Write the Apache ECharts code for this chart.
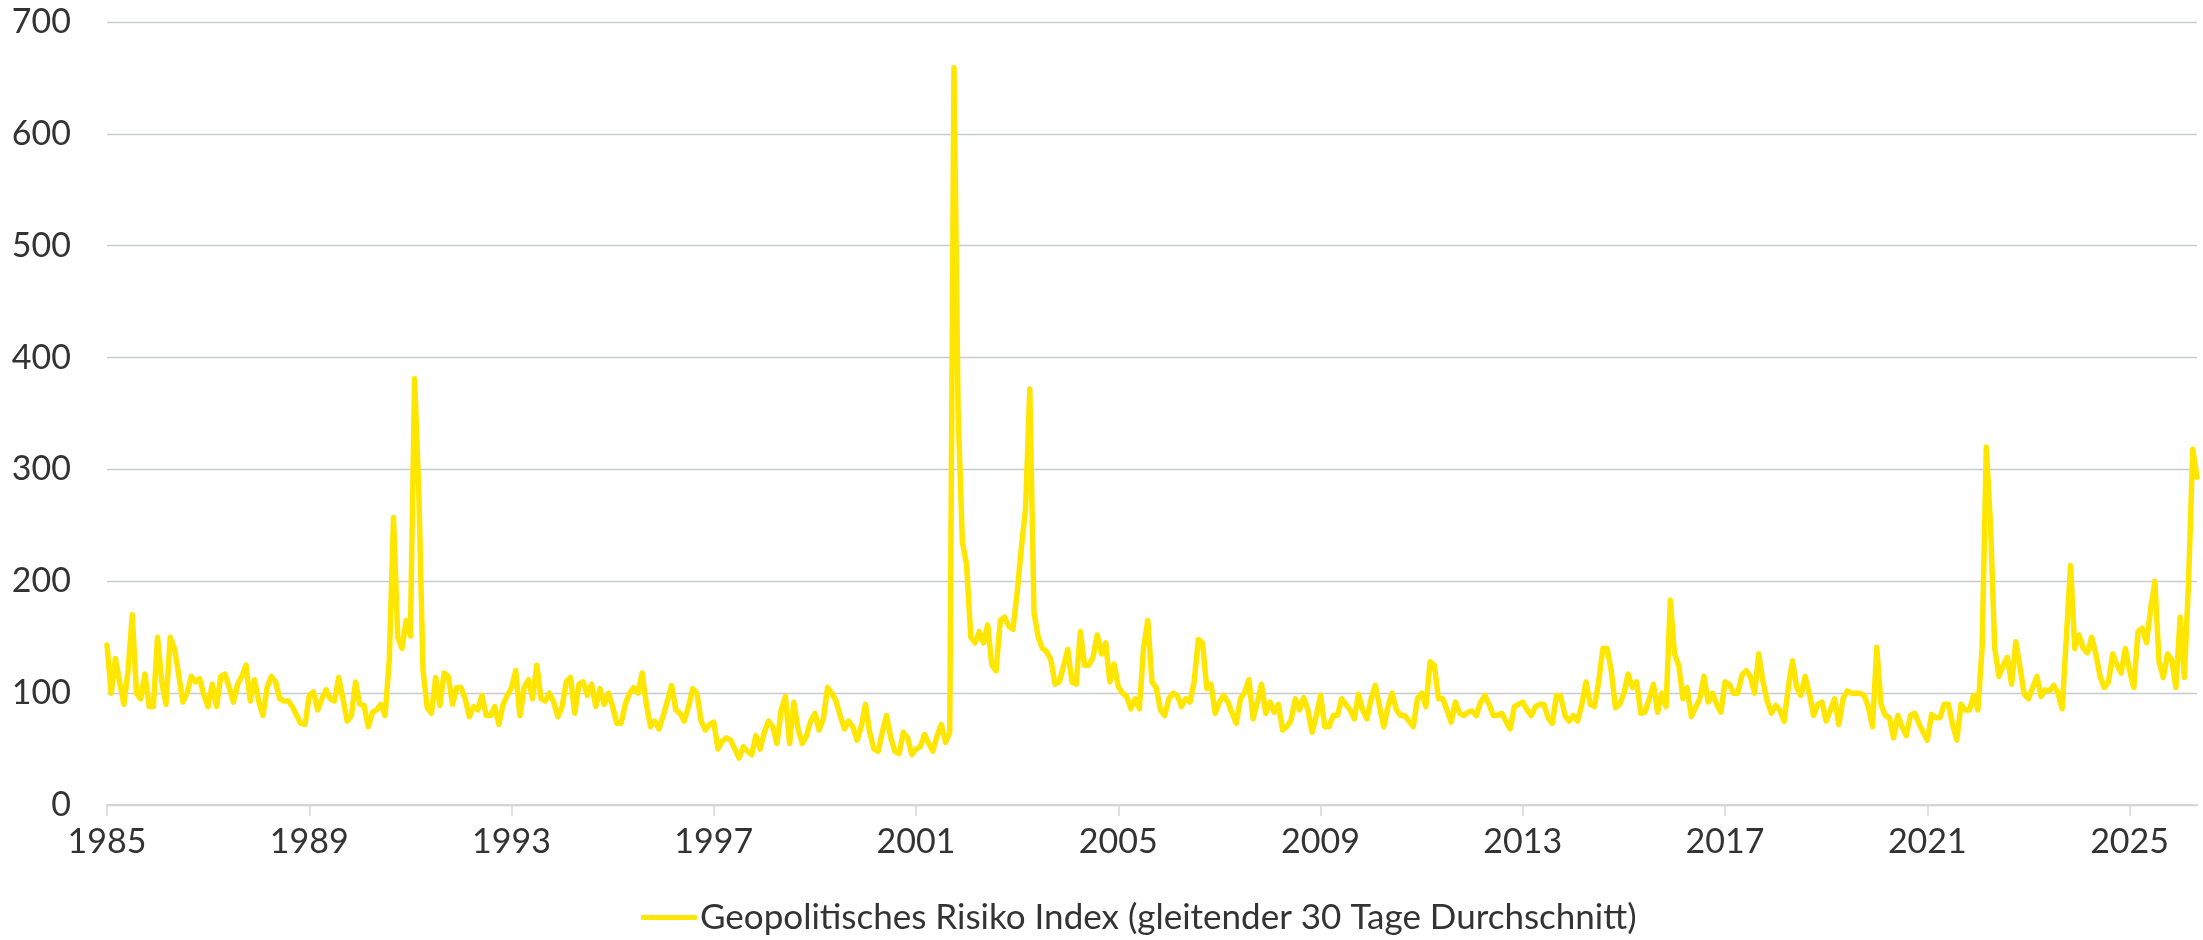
<!DOCTYPE html>
<html>
<head>
<meta charset="utf-8">
<script src="https://cdn.jsdelivr.net/npm/echarts@6/dist/echarts.min.js"></script>
<style>
html,body{margin:0;padding:0;background:#fff;}
#chart{width:2203px;height:940px;}
</style>
</head>
<body>
<div id="chart"></div>
<script>
// Monthly values of the Geopolitical Risk Index (30-day moving average)
const startYear = 1985;
const seriesName = 'Geopolitisches Risiko Index (gleitender 30 Tage Durchschnitt)';
const v1985 = [143, 100, 131, 110, 90, 120, 170, 100, 95, 117, 88, 88];
const v1986 = [150, 110, 90, 150, 140, 117, 92, 100, 115, 110, 113, 98];
const v1987 = [88, 108, 88, 115, 117, 105, 92, 108, 115, 125, 93, 112];
const v1988 = [93, 80, 105, 115, 110, 95, 93, 93, 88, 80, 73, 72];
const v1989 = [98, 101, 85, 95, 103, 95, 93, 114, 95, 75, 80, 110];
const v1990 = [90, 89, 70, 83, 85, 90, 80, 130, 257, 150, 140, 165];
const v1991 = [151, 381, 280, 120, 87, 82, 114, 89, 118, 115, 90, 105];
const v1992 = [105, 95, 79, 88, 85, 98, 80, 80, 88, 72, 90, 98];
const v1993 = [105, 120, 80, 105, 112, 95, 125, 95, 93, 100, 92, 79];
const v1994 = [88, 110, 114, 82, 108, 110, 98, 108, 88, 104, 90, 100];
const v1995 = [88, 73, 73, 90, 100, 105, 100, 118, 90, 70, 75, 68];
const v1996 = [80, 93, 107, 85, 82, 75, 88, 104, 100, 75, 67, 72];
const v1997 = [74, 50, 57, 60, 58, 50, 42, 52, 48, 45, 62, 50];
const v1998 = [65, 75, 70, 55, 85, 97, 55, 92, 68, 55, 62, 75];
const v1999 = [82, 67, 77, 105, 100, 93, 80, 68, 75, 70, 58, 70];
const v2000 = [90, 65, 50, 48, 65, 80, 60, 48, 46, 65, 60, 45];
const v2001 = [50, 52, 63, 55, 48, 62, 72, 56, 65, 659, 350, 235];
const v2002 = [215, 150, 145, 155, 145, 161, 125, 120, 165, 168, 160, 157];
const v2003 = [190, 230, 265, 372, 172, 150, 140, 137, 130, 108, 110, 124];
const v2004 = [139, 110, 108, 155, 125, 125, 132, 152, 135, 145, 110, 126];
const v2005 = [106, 100, 97, 86, 95, 86, 140, 165, 110, 105, 85, 80];
const v2006 = [95, 100, 98, 88, 95, 92, 110, 148, 145, 104, 108, 82];
const v2007 = [92, 98, 92, 82, 73, 95, 101, 112, 77, 92, 108, 82];
const v2008 = [92, 83, 90, 67, 70, 76, 95, 85, 96, 85, 65, 80];
const v2009 = [98, 70, 70, 80, 80, 95, 90, 85, 77, 99, 85, 77];
const v2010 = [95, 107, 88, 70, 88, 100, 85, 80, 80, 75, 70, 95];
const v2011 = [100, 88, 128, 125, 95, 95, 85, 74, 92, 82, 80, 83];
const v2012 = [84, 80, 92, 98, 90, 80, 80, 82, 75, 68, 88, 90];
const v2013 = [92, 85, 80, 88, 90, 90, 78, 73, 98, 97, 80, 75];
const v2014 = [80, 75, 90, 110, 90, 88, 110, 140, 140, 120, 87, 90];
const v2015 = [100, 117, 105, 110, 82, 83, 95, 108, 83, 100, 88, 183];
const v2016 = [135, 125, 95, 105, 79, 87, 95, 115, 92, 100, 90, 83];
const v2017 = [110, 108, 100, 100, 116, 120, 115, 100, 135, 110, 93, 82];
const v2018 = [89, 85, 75, 105, 129, 105, 98, 115, 100, 80, 90, 92];
const v2019 = [75, 85, 95, 72, 95, 102, 100, 100, 100, 98, 88, 70];
const v2020 = [141, 90, 80, 78, 60, 80, 70, 62, 80, 82, 73, 65];
const v2021 = [58, 81, 78, 78, 90, 90, 72, 58, 90, 85, 85, 98];
const v2022 = [85, 140, 320, 250, 140, 115, 125, 132, 108, 146, 123, 99];
const v2023 = [95, 105, 115, 97, 103, 102, 107, 100, 86, 150, 214, 140];
const v2024 = [152, 140, 136, 150, 135, 115, 105, 110, 135, 125, 118, 140];
const v2025 = [120, 105, 155, 158, 145, 175, 200, 128, 114, 135, 130, 105];
const v2026 = [168, 114, 200, 318, 293];

const values = [].concat(v1985, v1986, v1987, v1988, v1989, v1990, v1991, v1992, v1993, v1994,
  v1995, v1996, v1997, v1998, v1999, v2000, v2001, v2002, v2003, v2004, v2005, v2006, v2007,
  v2008, v2009, v2010, v2011, v2012, v2013, v2014, v2015, v2016, v2017, v2018, v2019, v2020,
  v2021, v2022, v2023, v2024, v2025, v2026);

const categories = values.map((_, i) => {
  const y = startYear + Math.floor(i / 12);
  const m = (i % 12) + 1;
  return y + '-' + (m < 10 ? '0' + m : m);
});
const labelEvery = 48; // one label every four years

const chart = echarts.init(document.getElementById('chart'), null, {renderer: 'canvas'});
const font = 'Lato, "Open Sans", sans-serif';
const yellow = '#FFE600';
chart.setOption({
  animation: false,
  backgroundColor: '#ffffff',
  grid: {left: 107, right: 6, top: 22, bottom: 135, containLabel: false},
  legend: {
    data: [{name: seriesName, icon: 'roundRect'}],
    bottom: 0,
    left: 636,
    itemWidth: 56,
    itemHeight: 5,
    itemStyle: {color: yellow},
    textStyle: {fontFamily: font, fontSize: 35, color: '#333333', padding: [0,0,0,-2]}
  },
  xAxis: {
    type: 'category',
    data: categories,
    boundaryGap: false,
    axisLine: {lineStyle: {color: '#d6d6d6', width: 2}},
    axisTick: {
      interval: (i) => i % labelEvery === 0,
      length: 11,
      lineStyle: {color: '#d6d6d6', width: 1.5}
    },
    axisLabel: {
      interval: (i) => i % labelEvery === 0,
      formatter: (val) => val.slice(0, 4),
      fontFamily: font,
      fontSize: 34,
      color: '#333333',
      margin: 20
    },
    splitLine: {show: false}
  },
  yAxis: {
    type: 'value',
    min: 0,
    max: 700,
    interval: 100,
    axisLine: {show: false},
    axisTick: {show: false},
    axisLabel: {fontFamily: font, fontSize: 34, color: '#333333', margin: 36},
    splitLine: {lineStyle: {color: '#c8cace', width: 1.3}}
  },
  series: [{
    name: seriesName,
    type: 'line',
    data: values,
    symbol: 'none',
    showSymbol: false,
    lineStyle: {color: yellow, width: 5.5, join: 'round', cap: 'round'},
    itemStyle: {color: yellow},
    z: 3
  }]
});
</script>
</body>
</html>
